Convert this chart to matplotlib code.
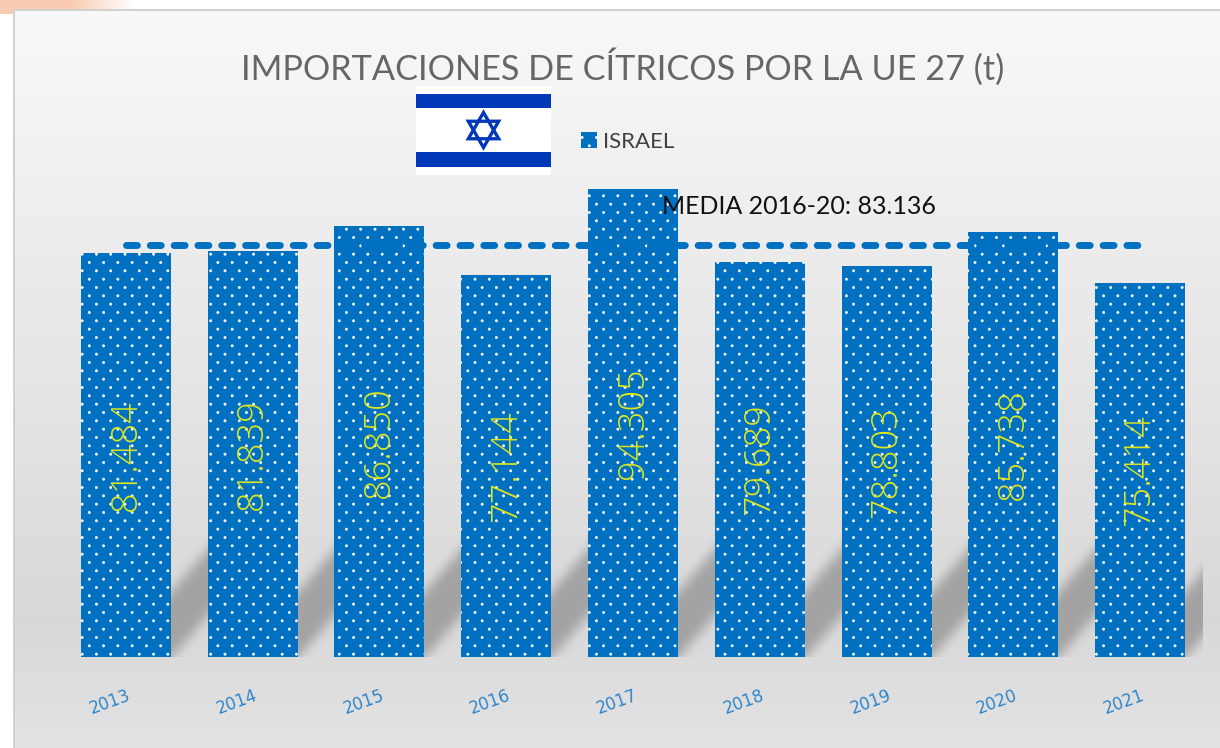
import numpy as np
import matplotlib
matplotlib.use('Agg')
import matplotlib.pyplot as plt
from matplotlib import hatch as mhatch
from matplotlib.path import Path
from matplotlib.patches import Rectangle, Polygon
from matplotlib.transforms import ScaledTranslation

# Data
years = ['2013', '2014', '2015', '2016', '2017', '2018', '2019', '2020', '2021']
israel = [81484, 81839, 86850, 77144, 94305, 79689, 78803, 85738, 75414]
media = 83136
title = 'IMPORTACIONES DE CÍTRICOS POR LA UE 27 (t)'
media_label = 'MEDIA 2016-20: 83.136'

W, H = 1220, 748
BLUE = '#0070c0'


# matplotlib's '.' hatch is too dense vertically, this one is spaced like the original
class DotHatch(mhatch.HatchPatternBase):
    rows, cols, radius = 12, 7, 0.0115

    def __init__(self, pattern, density):
        self.on = '.' in (pattern or '')
        self.circle = Path.unit_circle()
        n = self.rows * self.cols if self.on else 0
        self.num_vertices = n * len(self.circle.vertices)

    def set_vertices_and_codes(self, vertices, codes):
        if not self.on:
            return
        k = len(self.circle.vertices)
        pos = 0
        for r in range(self.rows):
            for c in range(self.cols):
                cx = (c + 0.25 + 0.5 * (r % 2)) / self.cols
                cy = (r + 0.5) / self.rows
                vertices[pos:pos + k] = self.circle.vertices * self.radius + [cx, cy]
                codes[pos:pos + k] = self.circle.codes
                pos += k


mhatch._hatch_types = [t for t in mhatch._hatch_types if t is not mhatch.SmallFilledCircles]
mhatch._hatch_types.append(DotHatch)
plt.rcParams['hatch.linewidth'] = 0.4

fig = plt.figure(figsize=(W / 100, H / 100), dpi=100, facecolor='white')

# Main axes, placed in pixels of the original
left, right, top, bottom = 62.6, 1203.4, 100, 657
ax = fig.add_axes([left / W, 1 - bottom / H, (right - left) / W, (bottom - top) / H], zorder=2)
ax.patch.set_alpha(0)
bar_w = 0.71
x = np.arange(len(years))
bars = ax.bar(x, israel, width=bar_w, color=BLUE, edgecolor='white', linewidth=0, hatch='.', label='ISRAEL')
ax.set_xlim(-0.5, 8.5)
ax.set_ylim(0, 112344)
ax.plot(x, [media] * len(x), color=BLUE, lw=5, dash_capstyle='round', dashes=(1.57, 1.86))
ax.set_yticks([])
for s in ax.spines.values():
    s.set_visible(False)

labels = ax.bar_label(bars, labels=[f'{v:,}'.replace(',', '.') for v in israel], label_type='center',
                      rotation=90, color='#dde61e', fontsize=26, family='Open Sans', fontweight='light')
for t in labels:
    t.set_transform(t.get_transform() + ScaledTranslation(0.045, 0.045, fig.dpi_scale_trans))

ax.set_xticks(x, years)
ax.tick_params(axis='x', length=0, pad=21)
for t in ax.get_xticklabels():
    t.set_rotation(20)
    t.set_color('#2f86cc')
    t.set_fontsize(12)
    t.set_transform(t.get_transform() + ScaledTranslation(-0.16, 0, fig.dpi_scale_trans))

leg = ax.legend(loc='center left', bbox_to_anchor=(570 / W, 1 - 142 / H), bbox_transform=fig.transFigure,
                frameon=False, handlelength=0.7, handleheight=0.7, handletextpad=0.3, borderpad=0,
                prop={'family': 'Lato', 'size': 16})
leg.get_texts()[0].set_color('#404040')

fig.text(623 / W, 1 - 80 / H, title, ha='center', va='baseline', color='#666666',
         fontsize=24.7, family='Lato', zorder=5)
fig.text(662 / W, 1 - 214 / H, media_label, ha='left', va='baseline', color='#111111',
         fontsize=18, family='Lato', zorder=5)

# Background panel with gradient, shadows behind the bars
yy, xx = np.mgrid[0:H, 0:W]
grey = np.interp(yy, [10, 620, 748], [0.975, 0.85, 0.89])
shadow = np.zeros((H, W))
fig.canvas.draw()
for b in bars:
    xr = ax.transData.transform((b.get_x() + b.get_width(), 0))[0]
    low = bottom - 1.15 * (xx - xr)
    band = (xx >= xr - 10) & (xx <= xr + 60) & (yy < low) & (yy > low - 66)
    shadow = np.maximum(shadow, band.astype(float))
kernel = np.ones(13) / 13
for _ in range(2):
    shadow = np.apply_along_axis(lambda r: np.convolve(r, kernel, mode='same'), 0, shadow)
    shadow = np.apply_along_axis(lambda r: np.convolve(r, kernel, mode='same'), 1, shadow)
shadow[:, int(right):] = 0
shadow[bottom:, :] = 0
grey = grey * (1 - shadow) + 0.64 * shadow

img = np.repeat(grey[:, :, None], 3, axis=2)
img[yy < 10] = 1.0
img[xx < 14] = 1.0
img[(yy >= 9) & (yy < 11) & (xx >= 13)] = 0.82
img[(xx >= 13) & (xx < 15) & (yy >= 9)] = 0.82
# peach smudge in the top left corner
peach = np.array([0.98, 0.80, 0.70])
mask = ((yy < 9) | ((yy < 14) & (xx < 13)))
fade = np.clip((135 - xx) / 65, 0, 1)[:, :, None]
img = np.where(mask[:, :, None], img * (1 - fade) + peach * fade, img)

bg = fig.add_axes([0, 0, 1, 1], zorder=1)
bg.imshow(img, extent=(0, W, H, 0), aspect='auto', interpolation='nearest')
bg.set_xlim(0, W)
bg.set_ylim(H, 0)
bg.axis('off')

# Flag
fig_flag_blue = '#0038b8'
bg.add_patch(Rectangle((416, 86), 135, 89, color='white', lw=0))
bg.add_patch(Rectangle((416, 94), 135, 14, color=fig_flag_blue, lw=0))
bg.add_patch(Rectangle((416, 152), 135, 14.5, color=fig_flag_blue, lw=0))
cx, cy, R = 483.5, 130, 17.5
for a0 in (90, 270):
    ang = np.radians([a0, a0 + 120, a0 + 240])
    pts = np.c_[cx + R * np.cos(ang), cy - R * np.sin(ang)]
    bg.add_patch(Polygon(pts, closed=True, fill=False, ec=fig_flag_blue, lw=2.4))

fig.savefig('out.png', dpi=100)
